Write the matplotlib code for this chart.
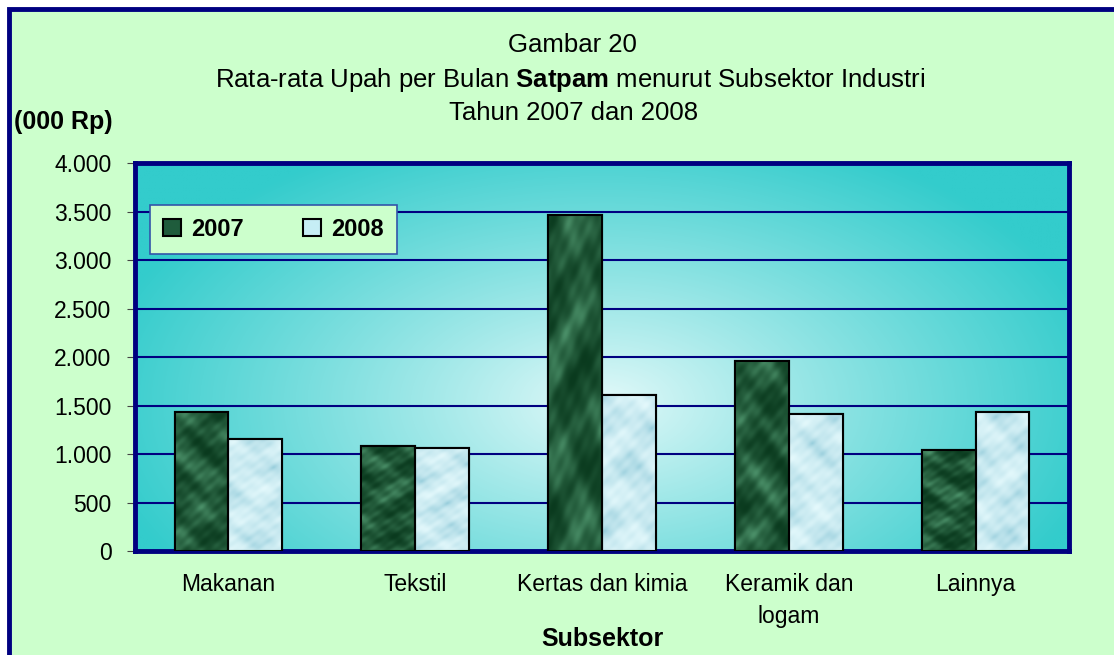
import numpy as np
import matplotlib
matplotlib.use("Agg")
import matplotlib.pyplot as plt
from matplotlib.patches import Rectangle
from matplotlib.ticker import FuncFormatter

categories = ["Makanan", "Tekstil", "Kertas dan kimia", "Keramik dan\nlogam", "Lainnya"]
wage_2007 = [1433, 1082, 3464, 1959, 1041]
wage_2008 = [1155, 1062, 1608, 1412, 1433]
series_labels = ["2007", "2008"]

plt.rcParams["font.family"] = ["Liberation Sans", "DejaVu Sans"]
plt.rcParams["mathtext.fontset"] = "custom"
plt.rcParams["mathtext.rm"] = "Liberation Sans"
plt.rcParams["mathtext.bf"] = "Liberation Sans:bold"


def marble(dark, light, phase, gamma):
    # smooth mottled shading made of sines, used only as bar fill
    yy, xx = np.mgrid[0:160, 0:50] / 10.0
    v = np.sin(xx * 1.1 + 2.0 * np.sin(yy * 0.5 + phase))
    v += np.sin(yy * 1.3 + 1.8 * np.cos(xx * 0.8 + phase))
    v += 0.5 * np.sin(xx * 3.1 - yy * 2.3 + phase)
    v += 0.5 * np.sin(xx * 2.2 + yy * 3.7 - phase)
    v += 0.3 * np.sin(xx * 6.3 + yy * 5.1 + 2 * phase)
    v = (v - v.min()) / (v.max() - v.min())
    v = v ** gamma
    dark = np.array(matplotlib.colors.to_rgb(dark))
    light = np.array(matplotlib.colors.to_rgb(light))
    return dark * (1 - v[..., None]) + light * v[..., None]


fig = plt.figure(figsize=(11.14, 6.55), dpi=100)
fig.patch.set_facecolor("white")

# outer green panel with navy border (cut at right/bottom like the source)
fig.patches.append(Rectangle((9 / 1114, -0.01), 1.02, 1 - 9 / 655 + 0.01,
                             transform=fig.transFigure, facecolor="#ccffcc",
                             edgecolor="#000080", linewidth=3.5, zorder=0))

ax = fig.add_axes([135 / 1114, 1 - 551 / 655, 934 / 1114, 388 / 655])
ax.set_zorder(2)
ax.set_facecolor("#33cccc")

# radial gradient background
gx, gy = np.meshgrid(np.linspace(0, 1, 300), np.linspace(0, 1, 200))
r = np.sqrt(((gx - 0.5) / 0.55) ** 2 + ((gy - 0.38) / 0.75) ** 2)
r = np.clip(r, 0, 1)
c0 = np.array([0.90, 0.98, 0.98])
c1 = np.array([0.20, 0.80, 0.80])
t = r[..., None] ** 0.9
img = c0 * (1 - t) + c1 * t
ax.imshow(img, extent=[0, 1, 0, 1], transform=ax.transAxes, origin="lower",
          aspect="auto", zorder=0, interpolation="bilinear")

x = np.arange(len(categories))
width = 0.2875
bars07 = ax.bar(x - width / 2, wage_2007, width, color="#1f5c3c", edgecolor="black",
                linewidth=1.5, label=series_labels[0], zorder=3)
bars08 = ax.bar(x + width / 2, wage_2008, width, color="#c6eef5", edgecolor="black",
                linewidth=1.5, label=series_labels[1], zorder=3)

styles = [(bars07, "#0a3a1e", "#4a8f68", 1.6, 0.0), (bars08, "#98cedc", "#e4f9fc", 0.6, 0.9)]
for bars, dark, light, gamma, shift in styles:
    for i, b in enumerate(bars):
        bx, by = b.get_x(), b.get_y()
        im = ax.imshow(marble(dark, light, 1.7 * i + shift, gamma),
                       extent=[bx, bx + b.get_width(), by, by + b.get_height()],
                       aspect="auto", zorder=3.5, interpolation="bilinear")
        im.set_clip_path(b)
        edge = Rectangle((bx, by), b.get_width(), b.get_height(), fill=False,
                         edgecolor="black", linewidth=1.5, zorder=4)
        ax.add_patch(edge)

ax.set_xlim(-0.5, len(categories) - 0.5)
ax.set_ylim(0, 4000)
ax.set_yticks(np.arange(0, 4001, 500))
ax.yaxis.set_major_formatter(FuncFormatter(lambda v, p: f"{int(v):,}".replace(",", ".")))
ax.grid(True, axis="y", color="#000080", linewidth=1.5, zorder=1)
ax.set_axisbelow(True)
ax.set_xticks(x)
ax.set_xticklabels(categories, fontsize=16.5, linespacing=1.5)
ax.tick_params(axis="x", length=0, pad=16)
ax.tick_params(axis="y", labelsize=16.5, length=6, color="#444444", pad=11)
for s in ax.spines.values():
    s.set_color("#000080")
    s.set_linewidth(3.5)

ax.set_xlabel("Subsektor", fontsize=18, fontweight="bold")
ax.xaxis.set_label_coords(0.5, -0.197)

leg = ax.legend(loc="upper left", bbox_to_anchor=(15 / 934, 0.892), ncol=2,
                prop={"weight": "bold", "size": 17},
                frameon=True, fancybox=False, facecolor="#ccffcc",
                edgecolor="#3355aa", framealpha=1, handlelength=0.75,
                handleheight=0.75, columnspacing=2.5, borderpad=0.55,
                handletextpad=0.45, borderaxespad=0)
leg.get_frame().set_linewidth(1.2)
for h in leg.legend_handles:
    h.set_edgecolor("black")
    h.set_linewidth(1.5)

fig.text(572 / 1114, 1 - 45 / 655, "Gambar 20", ha="center", va="center", fontsize=18.5)
fig.text(570 / 1114, 1 - 80 / 655,
         r"Rata-rata Upah per Bulan $\bf{Satpam}$ menurut Subsektor Industri",
         ha="center", va="center", fontsize=18.5)
fig.text(574 / 1114, 1 - 113 / 655, "Tahun 2007 dan 2008", ha="center",
         va="center", fontsize=18.5)
fig.text(14 / 1114, 1 - 122 / 655, "(000 Rp)", ha="left", va="center",
         fontsize=18, fontweight="bold")

fig.savefig("out.png", dpi=100, facecolor=fig.get_facecolor())
